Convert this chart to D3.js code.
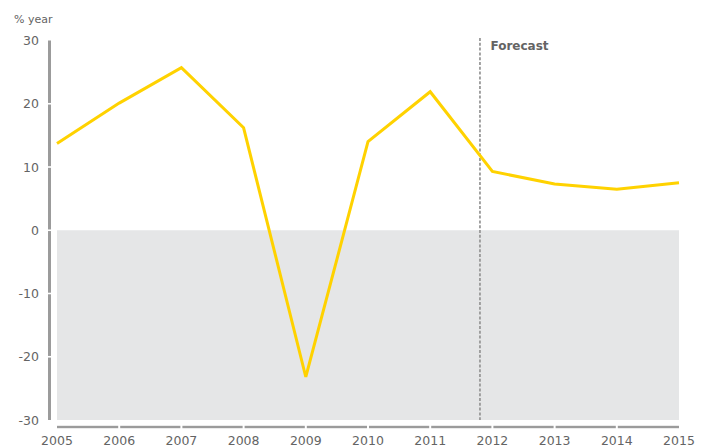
<!DOCTYPE html>
<html>
<head>
<meta charset="utf-8">
<script src="https://cdn.jsdelivr.net/npm/d3@7"></script>
<style>
  body { margin: 0; background: #fff; }
  text { font-family: "DejaVu Sans", sans-serif; fill: #646464; }
</style>
</head>
<body>
<svg id="chart" width="708" height="448"></svg>
<script>
// growth, % per year
var years = [2005, 2006, 2007, 2008, 2009, 2010, 2011, 2012, 2013, 2014, 2015];
var growth = [13.7, 20.1, 25.7, 16.2, -23.2, 14.0, 21.9, 9.3, 7.3, 6.5, 7.5];
var yTicks = [30, 20, 10, 0, -10, -20, -30];
var forecastStart = 2011.8;

var svg = d3.select("#chart");

var x = d3.scaleLinear().domain([2005, 2015]).range([57, 679]);
var y = d3.scaleLinear().domain([-30, 30]).range([420, 40.5]);

// grey band under zero
svg.append("rect")
    .attr("x", x(2005))
    .attr("y", y(0))
    .attr("width", x(2015) - x(2005))
    .attr("height", y(-30) - y(0))
    .style("fill", "#e5e6e7");

// left axis bar, broken at each tick
for (var i = 0; i < yTicks.length - 1; i++) {
    var segTop = y(yTicks[i]) + (i == 0 ? 0 : 0.8);
    var segBot = y(yTicks[i + 1]) - (i == yTicks.length - 2 ? 0 : 0.8);
    svg.append("rect")
        .attr("x", 48)
        .attr("y", segTop)
        .attr("width", 3)
        .attr("height", segBot - segTop)
        .style("fill", "#9b9b9b");
}

svg.selectAll(".ylab")
    .data(yTicks)
    .enter()
    .append("text")
    .attr("class", "ylab")
    .attr("x", 39)
    .attr("y", function(d) { return y(d); })
    .attr("dy", "0.36em")
    .attr("text-anchor", "end")
    .style("font-size", "12.5px")
    .text(function(d) { return d; });

svg.append("text")
    .attr("x", 14)
    .attr("y", 23)
    .style("font-size", "11px")
    .text("% year");

// bottom axis bar, broken at each year
for (var j = 0; j < years.length - 1; j++) {
    var segLeft = x(years[j]) + (j == 0 ? 0 : 1);
    var segRight = x(years[j + 1]) - (j == years.length - 2 ? 0 : 1);
    svg.append("rect")
        .attr("x", segLeft)
        .attr("y", 425.8)
        .attr("width", segRight - segLeft)
        .attr("height", 2.4)
        .style("fill", "#9b9b9b");
}

svg.selectAll(".xlab")
    .data(years)
    .enter()
    .append("text")
    .attr("class", "xlab")
    .attr("x", function(d) { return x(d); })
    .attr("y", 445)
    .attr("text-anchor", "middle")
    .style("font-size", "12.5px")
    .text(function(d) { return d; });

// forecast marker
svg.append("line")
    .attr("x1", x(forecastStart))
    .attr("x2", x(forecastStart))
    .attr("y1", 38)
    .attr("y2", 420)
    .style("stroke", "#999")
    .style("stroke-width", 1.8)
    .style("stroke-dasharray", "3,1.8");

svg.append("text")
    .attr("x", x(forecastStart) + 10.5)
    .attr("y", 49.5)
    .style("font-size", "12px")
    .style("font-weight", "bold")
    .text("Forecast");

// growth line
var line = d3.line()
    .x(function(d, i) { return x(years[i]); })
    .y(function(d) { return y(d); });

svg.append("path")
    .datum(growth)
    .attr("d", line)
    .style("fill", "none")
    .style("stroke", "#ffd200")
    .style("stroke-width", 3);
</script>
</body>
</html>
